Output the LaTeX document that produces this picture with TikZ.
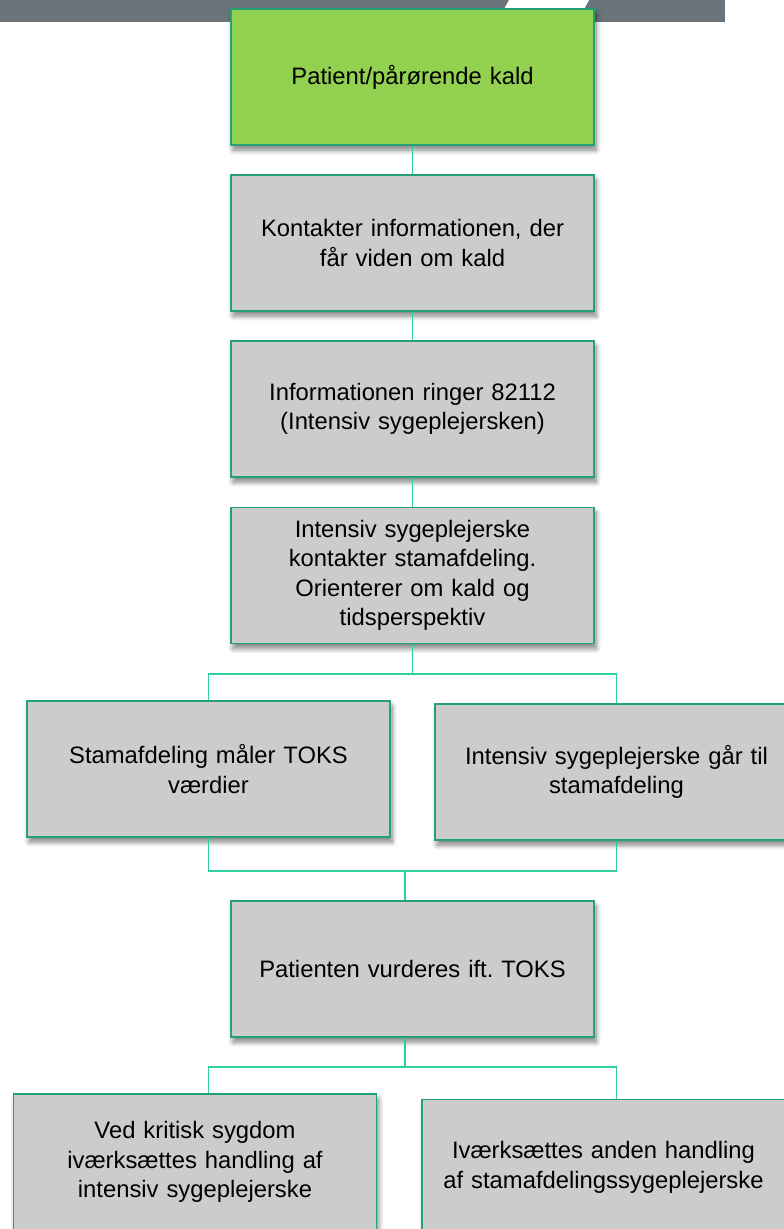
\documentclass[tikz,border=0pt]{standalone}
\usepackage{fontspec}
\setmainfont{Liberation Sans}
\usetikzlibrary{shadows.blur}
\frenchspacing
\definecolor{bannergray}{RGB}{107,115,123}
\definecolor{boxgray}{RGB}{204,204,204}
\definecolor{boxgreen}{RGB}{146,208,80}
\definecolor{boxedge}{RGB}{38,160,118}
\definecolor{linkteal}{RGB}{45,206,160}
\tikzset{
  stepbox/.style={rectangle, draw=boxedge, line width=1.3pt, fill=boxgray,
    minimum width=363pt, minimum height=136pt, text width=350pt, inner sep=0pt,
    align=center, font=\fontsize{23.8}{29.5}\selectfont,
    blur shadow={shadow xshift=2pt, shadow yshift=-5pt, shadow blur steps=8,
      shadow blur radius=5pt, shadow opacity=50}},
  startbox/.style={stepbox, fill=boxgreen},
  link/.style={draw=linkteal, line width=1.3pt}
}
\begin{document}
\begin{tikzpicture}[x=1pt, y=-1pt]
\useasboundingbox (0,0) rectangle (784,1229);
\clip (0,0) rectangle (784,1229);
% header band
\fill[bannergray] (0,0) rectangle (725,22);
\fill[white] (509,0) -- (589,0) -- (577,22) -- (497,22) -- cycle;
% main chain
\node[startbox] (b1) at (412.5,77) {Patient/pårørende kald};
\node[stepbox] (b2) at (412.5,243) {Kontakter informationen, der\\får viden om kald};
\node[stepbox] (b3) at (412.5,409) {Informationen ringer 82112\\(Intensiv sygeplejersken)};
\node[stepbox] (b4) at (412.5,575.5) {Intensiv sygeplejerske\\kontakter stamafdeling.\\Orienterer om kald og\\tidsperspektiv};
% parallel steps
\node[stepbox] (b5l) at (208.5,769) {Stamafdeling måler TOKS\\værdier};
\node[stepbox] (b5r) at (616.5,772) {Intensiv sygeplejerske går til\\stamafdeling};
\node[stepbox] (b6) at (412.5,969) {Patienten vurderes ift. TOKS};
% outcomes
\node[stepbox] (b7l) at (195,1162) {Ved kritisk sygdom\\iværksættes handling af\\intensiv sygeplejerske};
\node[stepbox] (b7r) at (603.5,1167.5) {Iværksættes anden handling\\af stamafdelingssygeplejerske};
% junction points
\coordinate (j1) at (412.5,674);
\coordinate (j2) at (405,871);
\coordinate (j3) at (405,1067);
% connectors
\draw[link] (b1) -- (b2);
\draw[link] (b2) -- (b3);
\draw[link] (b3) -- (b4);
\draw[link] (b4.south) -- (j1);
\draw[link] (b5l.north) |- (j1) -| (b5r.north);
\draw[link] (b5l.south) |- (j2) -| (b5r.south);
\draw[link] (j2) -- (j2 |- b6.north);
\draw[link] (j3 |- b6.south) -- (j3);
\draw[link] (b5l.south |- b7l.north) |- (j3) -| (b5r.south |- b7r.north);
\end{tikzpicture}
\end{document}
